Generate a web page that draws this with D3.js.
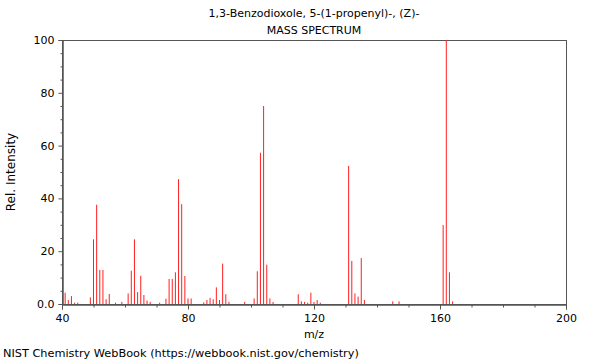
<!DOCTYPE html>
<html>
<head>
<meta charset="utf-8">
<script src="https://cdn.jsdelivr.net/npm/d3@7"></script>
<style>
  body { margin: 0; background: #fff; }
  text { font-family: "DejaVu Sans", sans-serif; font-size: 11px; fill: #000; }
</style>
</head>
<body>
<script>
  //data
  var mzValues = [41, 42, 43, 44, 45, 49, 50, 51, 52, 53, 54, 55, 57, 59,
      61, 62, 63, 64, 65, 66, 67, 68, 71, 73, 74, 75, 76, 77, 78, 79,
      80, 81, 85, 86, 87, 88, 89, 90, 91, 92, 93, 98,
      101, 102, 103, 104, 105, 106, 107, 115, 116, 117, 118, 119, 120, 121, 122,
      131, 132, 133, 134, 135, 136, 145, 147, 161, 162, 163, 164];
  var intensities = [4.3, 1.5, 3.0, 0.5, 0.5, 2.5, 24.5, 37.6, 12.9, 12.9, 1.8, 3.8, 0.5, 0.8,
      4.0, 12.6, 24.5, 4.5, 10.7, 3.4, 1.3, 0.8, 0.5, 2.0, 9.5, 9.5, 12.0, 47.3, 37.8, 10.6,
      2.1, 2.1, 0.6, 1.5, 2.3, 1.8, 6.3, 1.5, 15.3, 3.7, 0.8, 0.8,
      2.1, 12.4, 57.3, 75.0, 14.9, 2.1, 0.8, 3.7, 1.0, 0.8, 0.5, 4.3, 0.8, 1.5, 0.5,
      52.3, 16.3, 4.0, 2.8, 17.4, 1.5, 1.0, 1.0, 29.9, 100, 12.0, 1.0];
  var xTicks = [40, 80, 120, 160, 200];
  var yTicks = [0, 20, 40, 60, 80, 100];
  var yTickLabels = ["0.0", "20", "40", "60", "80", "100"];
  var titleLines = ["1,3-Benzodioxole, 5-(1-propenyl)-, (Z)-", "MASS SPECTRUM"];

  var w = 600;
  var h = 360;
  var margin = { top: 40, right: 34, bottom: 56, left: 62 };

  var svg = d3.select("body").append("svg")
      .attr("width", w)
      .attr("height", h);

  var x = d3.scaleLinear().domain([40, 200]).range([margin.left, w - margin.right]);
  var y = d3.scaleLinear().domain([0, 100]).range([h - margin.bottom, margin.top]);

  var peaks = mzValues.map(function(m, i) { return { mz: m, value: intensities[i] }; });

  //frame
  svg.append("rect")
      .attr("x", margin.left + 0.5)
      .attr("y", margin.top + 0.5)
      .attr("width", w - margin.left - margin.right)
      .attr("height", h - margin.top - margin.bottom)
      .attr("fill", "none")
      .attr("stroke", "#555");

  //peaks
  svg.selectAll("line.peak")
      .data(peaks)
      .enter()
      .append("line")
      .attr("class", "peak")
      .attr("x1", function(d) { return x(d.mz); })
      .attr("x2", function(d) { return x(d.mz); })
      .attr("y1", y(0))
      .attr("y2", function(d) { return y(d.value); })
      .attr("stroke", "#ff2020")
      .attr("stroke-width", 1);

  //x axis
  svg.append("g")
      .attr("transform", "translate(0," + (y(0) + 0.5) + ")")
      .call(d3.axisBottom(x).tickValues(xTicks).tickSize(5).tickPadding(5).tickFormat(d3.format("d")));
  svg.append("g")
      .attr("transform", "translate(0," + (y(0) + 0.5) + ")")
      .call(d3.axisBottom(x).tickValues(d3.range(50, 200, 10).filter(function(v) { return v % 40 != 0; }))
          .tickSize(3).tickFormat(""));

  //y axis
  svg.append("g")
      .attr("transform", "translate(" + (margin.left + 0.5) + ",0)")
      .call(d3.axisLeft(y).tickValues(yTicks).tickSize(4).tickPadding(4)
          .tickFormat(function(d, i) { return yTickLabels[i]; }));
  svg.append("g")
      .attr("transform", "translate(" + (margin.left + 0.5) + ",0)")
      .call(d3.axisLeft(y).tickValues(d3.range(5, 100, 5).filter(function(v) { return v % 20 != 0; }))
          .tickSize(2).tickFormat(""));

  svg.selectAll(".domain").attr("stroke", "#555");
  svg.selectAll(".tick line").attr("stroke", "#555");
  svg.selectAll(".tick text").style("font-size", "11px").attr("fill", "#000");

  //titles
  svg.selectAll("text.title")
      .data(titleLines)
      .enter()
      .append("text")
      .attr("class", "title")
      .attr("x", (margin.left + w - margin.right) / 2)
      .attr("y", function(d, i) { return 17 + i * 17; })
      .attr("text-anchor", "middle")
      .text(function(d) { return d; });

  svg.append("text")
      .attr("x", (margin.left + w - margin.right) / 2)
      .attr("y", 338)
      .attr("text-anchor", "middle")
      .text("m/z");

  svg.append("text")
      .attr("transform", "translate(15," + ((margin.top + h - margin.bottom) / 2) + ") rotate(-90)")
      .attr("text-anchor", "middle")
      .style("font-size", "12px")
      .text("Rel. Intensity");

  svg.append("text")
      .attr("x", 3)
      .attr("y", 357)
      .style("font-size", "11.3px")
      .text("NIST Chemistry WebBook (https://webbook.nist.gov/chemistry)");
</script>
</body>
</html>
